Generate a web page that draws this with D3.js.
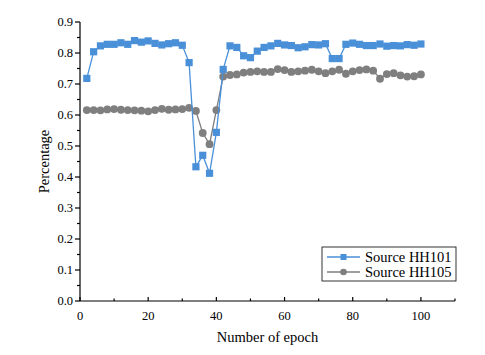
<!DOCTYPE html>
<html>
<head>
<meta charset="utf-8">
<script src="https://cdn.jsdelivr.net/npm/d3@7"></script>
<style>
  body { margin: 0; background: #fff; }
  text { font-family: "Liberation Serif", "Times New Roman", serif; }
</style>
</head>
<body>
<div id="chart"></div>
<script>
// epochs (every 2)
const epochs = d3.range(2, 101, 2);

const hh101 = [0.718, 0.804, 0.823, 0.828, 0.828, 0.833, 0.828, 0.840, 0.835, 0.839,
               0.831, 0.826, 0.830, 0.833, 0.825, 0.769, 0.433, 0.470, 0.412, 0.544,
               0.747, 0.823, 0.818, 0.791, 0.785, 0.806, 0.818, 0.823, 0.831, 0.826,
               0.824, 0.817, 0.820, 0.827, 0.826, 0.830, 0.782, 0.782, 0.828, 0.832,
               0.828, 0.824, 0.824, 0.829, 0.822, 0.824, 0.823, 0.827, 0.825, 0.829];

const hh105 = [0.616, 0.616, 0.615, 0.618, 0.619, 0.617, 0.616, 0.615, 0.614, 0.612,
               0.616, 0.620, 0.617, 0.618, 0.619, 0.623, 0.613, 0.542, 0.506, 0.616,
               0.724, 0.729, 0.731, 0.737, 0.739, 0.741, 0.739, 0.739, 0.748, 0.745,
               0.739, 0.741, 0.743, 0.746, 0.741, 0.735, 0.741, 0.746, 0.733, 0.741,
               0.745, 0.747, 0.743, 0.717, 0.732, 0.735, 0.728, 0.724, 0.725, 0.731];

const xTicks = [0, 20, 40, 60, 80, 100];
const yTicks = d3.range(0, 0.91, 0.1);
const seriesNames = ["Source HH101", "Source HH105"];
const colors = ["#4a90d9", "#7f7f7f"];

const W = 485, H = 355;
const margin = {top: 22, right: 30, bottom: 54, left: 80};

const svg = d3.select("#chart").append("svg")
    .attr("width", W).attr("height", H);

const x = d3.scaleLinear().domain([0, 110]).range([margin.left, W - margin.right]);
const y = d3.scaleLinear().domain([0, 0.9]).range([H - margin.bottom, margin.top]);

// x axis: ticks point inward
const gx = svg.append("g").attr("transform", `translate(0,${y(0)})`);
gx.append("line").attr("x1", x(0)).attr("x2", x(110)).attr("stroke", "#000").attr("stroke-width", 1.2);
gx.selectAll(".mj").data(d3.range(0, 111, 20)).enter().append("line")
    .attr("x1", d => x(d)).attr("x2", d => x(d)).attr("y1", 0).attr("y2", -4)
    .attr("stroke", "#000").attr("stroke-width", 1.2);
gx.selectAll(".mn").data(d3.range(10, 111, 20)).enter().append("line")
    .attr("x1", d => x(d)).attr("x2", d => x(d)).attr("y1", 0).attr("y2", -2.5)
    .attr("stroke", "#000").attr("stroke-width", 1.2);
gx.selectAll("text").data(xTicks).enter().append("text")
    .attr("x", d => x(d)).attr("y", 19).attr("text-anchor", "middle")
    .attr("font-size", 12.5).text(d => d);

// y axis: ticks point outward
const gy = svg.append("g").attr("transform", `translate(${x(0)},0)`);
gy.append("line").attr("y1", y(0)).attr("y2", y(0.9)).attr("stroke", "#000").attr("stroke-width", 1.2);
gy.selectAll(".mj").data(yTicks).enter().append("line")
    .attr("x1", -5).attr("x2", 0).attr("y1", d => y(d)).attr("y2", d => y(d))
    .attr("stroke", "#000").attr("stroke-width", 1.2);
gy.selectAll(".mn").data(d3.range(0.05, 0.9, 0.1)).enter().append("line")
    .attr("x1", -3).attr("x2", 0).attr("y1", d => y(d)).attr("y2", d => y(d))
    .attr("stroke", "#000").attr("stroke-width", 1.2);
gy.selectAll("text").data(yTicks).enter().append("text")
    .attr("x", -7).attr("y", d => y(d)).attr("dy", "0.35em").attr("text-anchor", "end")
    .attr("font-size", 12.5).text(d => d3.format(".1f")(d));

// titles
svg.append("text").attr("x", (x(0) + x(110)) / 2).attr("y", 342)
    .attr("text-anchor", "middle").attr("font-size", 14.5).text("Number of epoch");
svg.append("text").attr("transform", `translate(49,${(y(0) + y(0.9)) / 2}) rotate(-90)`)
    .attr("text-anchor", "middle").attr("font-size", 14.5).text("Percentage");

const line = d3.line().x((d, i) => x(epochs[i])).y(d => y(d));

// HH105 first (under), then HH101
svg.append("path").datum(hh105).attr("d", line)
    .attr("fill", "none").attr("stroke", colors[1]).attr("stroke-width", 1.3);
svg.selectAll(".c105").data(hh105).enter().append("circle")
    .attr("cx", (d, i) => x(epochs[i])).attr("cy", d => y(d)).attr("r", 3.9)
    .attr("fill", colors[1]);

svg.append("path").datum(hh101).attr("d", line)
    .attr("fill", "none").attr("stroke", colors[0]).attr("stroke-width", 1.3);
svg.selectAll(".s101").data(hh101).enter().append("rect")
    .attr("x", (d, i) => x(epochs[i]) - 3.6).attr("y", d => y(d) - 3.6)
    .attr("width", 7.2).attr("height", 7.2).attr("fill", colors[0]);

// legend
const lg = svg.append("g").attr("transform", "translate(322,247)");
lg.append("rect").attr("width", 134).attr("height", 34)
    .attr("fill", "#fff").attr("stroke", "#000").attr("stroke-width", 0.8);
seriesNames.forEach((name, i) => {
    const cy = 10 + i * 15;
    lg.append("line").attr("x1", 5).attr("x2", 38).attr("y1", cy).attr("y2", cy)
        .attr("stroke", colors[i]).attr("stroke-width", 1.3);
    if (i === 0) {
        lg.append("rect").attr("x", 18.5).attr("y", cy - 3).attr("width", 6).attr("height", 6).attr("fill", colors[i]);
    } else {
        lg.append("circle").attr("cx", 21.5).attr("cy", cy).attr("r", 3.3).attr("fill", colors[i]);
    }
    lg.append("text").attr("x", 43).attr("y", cy).attr("dy", "0.35em")
        .attr("font-size", 14.5).text(name);
});
</script>
</body>
</html>
